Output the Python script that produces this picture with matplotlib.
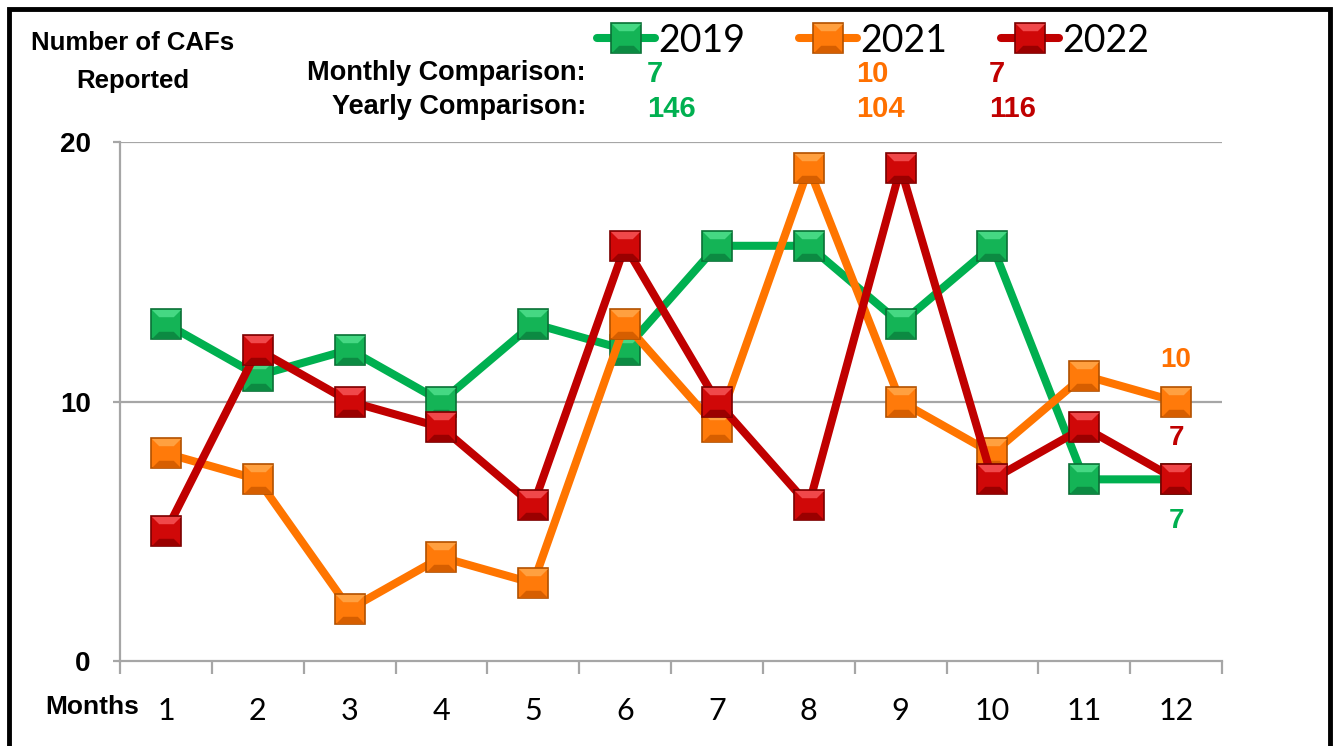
import matplotlib
matplotlib.use("Agg")
import matplotlib.pyplot as plt
from matplotlib.patches import Rectangle
from matplotlib.lines import Line2D
from matplotlib.path import Path
from matplotlib import font_manager as fm

months = list(range(1, 13))
month_labels = [str(m) for m in months]
years = ["2019", "2021", "2022"]
v2019 = [13, 11, 12, 10, 13, 12, 16, 16, 13, 16, 7, 7]
v2021 = [8, 7, 2, 4, 3, 13, 9, 19, 10, 8, 11, 10]
v2022 = [5, 12, 10, 9, 6, 16, 10, 6, 19, 7, 9, 7]
monthly_cmp = [7, 10, 7]
yearly_cmp = [146, 104, 116]
yticks = [0, 10, 20]

line_colors = ["#00B050", "#FF7500", "#C00000"]
face_colors = ["#14B456", "#FF7A0A", "#D00808"]
light_colors = ["#45D883", "#FFA040", "#F0484A"]
dark_colors = ["#0C8A42", "#D65E00", "#9A0000"]
edge_colors = ["#0A7036", "#B05000", "#7A0000"]
text_colors = ["#00B050", "#FF7000", "#C00000"]

names = {f.name for f in fm.fontManager.ttflist}
bold_font = "Liberation Sans Narrow" if "Liberation Sans Narrow" in names else "Liberation Sans"
num_font = "Lato" if "Lato" in names else "DejaVu Sans"

# bevel marker pieces (normalised to a square of half-size 1)
b = 0.5
top_trap = Path([(-1, 1), (1, 1), (b, b), (-b, b), (-1, 1)], closed=True)
bot_trap = Path([(-1, -1), (1, -1), (b, -b), (-b, -b), (-1, -1)], closed=True)

W, H = 1335, 746
fig = plt.figure(figsize=(W / 100, H / 100), dpi=100)

def fx(px):
    return px / W

def fy(py):
    return 1 - py / H

MS = 21

def bevel_marker(draw_fn, i, z):
    draw_fn(marker="s", ms=MS, markerfacecolor=face_colors[i],
            markeredgecolor=edge_colors[i], markeredgewidth=1.2, zorder=z)
    draw_fn(marker=top_trap, ms=MS, markerfacecolor=light_colors[i],
            markeredgewidth=0, zorder=z + 0.01)
    draw_fn(marker=bot_trap, ms=MS, markerfacecolor=dark_colors[i],
            markeredgewidth=0, zorder=z + 0.01)

ax = fig.add_axes([fx(120), fy(661), fx(1222) - fx(120), fy(142) - fy(661)])
series = [v2019, v2021, v2022]
for i, vals in enumerate(series):
    z = 3 + i
    ax.plot(months, vals, color=line_colors[i], lw=5.8, zorder=z,
            solid_capstyle="round")
    bevel_marker(lambda **kw: ax.plot(months, vals, ls="none", **kw), i, z + 0.1)

ax.set_xlim(0.5, 12.5)
ax.set_ylim(0, 20)
ax.set_yticks(yticks)
ax.set_yticklabels([str(t) for t in yticks], fontsize=20, fontweight="bold",
                   family=bold_font)
for t in yticks[1:]:
    ax.axhline(t, color="#A6A6A6", lw=1.6, zorder=1)
ax.set_xticks(months)
ax.set_xticklabels(month_labels, fontsize=22, family=num_font)
ax.set_xticks([m + 0.5 for m in [0] + months], minor=True)
ax.tick_params(axis="x", which="major", length=0, pad=26)
ax.tick_params(axis="x", which="minor", length=9, width=1.6, color="#A6A6A6")
ax.tick_params(axis="y", length=5, width=1.6, color="#A6A6A6", pad=16)
for s in ["top", "right"]:
    ax.spines[s].set_visible(False)
for s in ["left", "bottom"]:
    ax.spines[s].set_color("#A6A6A6")
    ax.spines[s].set_linewidth(1.6)

# end-of-line labels
ax.text(12, v2021[-1] + 1.1, str(v2021[-1]), color=text_colors[1], fontsize=20,
        fontweight="bold", family=bold_font, ha="center", va="bottom")
ax.text(12, v2022[-1] + 1.1, str(v2022[-1]), color=text_colors[2], fontsize=20,
        fontweight="bold", family=bold_font, ha="center", va="bottom")
ax.text(12, v2019[-1] - 1.1, str(v2019[-1]), color=text_colors[0], fontsize=20,
        fontweight="bold", family=bold_font, ha="center", va="top")

# legend
leg_x = [597, 799, 1001]
for i in range(3):
    y = fy(38)
    fig.add_artist(Line2D([fx(leg_x[i]), fx(leg_x[i] + 58)], [y, y], color=line_colors[i],
                          lw=5.8, solid_capstyle="round",
                          transform=fig.transFigure))
    xm = fx(leg_x[i] + 29)
    bevel_marker(lambda **kw: fig.add_artist(Line2D([xm], [y], ls="none",
                                                    transform=fig.transFigure, **kw)),
                 i, 5)
    fig.text(fx(leg_x[i] + 61), y, years[i], fontsize=27, family=num_font,
             ha="left", va="center_baseline")

# header texts
fig.text(fx(133), fy(43), "Number of CAFs", fontsize=18.5, fontweight="bold",
         family=bold_font, ha="center", va="center")
fig.text(fx(133), fy(81), "Reported", fontsize=18.5, fontweight="bold",
         family=bold_font, ha="center", va="center")
fig.text(fx(586), fy(73), "Monthly Comparison:", fontsize=19.5, fontweight="bold",
         family=bold_font, ha="right", va="center")
fig.text(fx(586), fy(107), "Yearly Comparison:", fontsize=19.5, fontweight="bold",
         family=bold_font, ha="right", va="center")
val_x = [647, 856, 989]
for i in range(3):
    fig.text(fx(val_x[i]), fy(74), str(monthly_cmp[i]), color=text_colors[i],
             fontsize=21, fontweight="bold", family=bold_font, ha="left", va="center")
    fig.text(fx(val_x[i]), fy(109), str(yearly_cmp[i]), color=text_colors[i],
             fontsize=21, fontweight="bold", family=bold_font, ha="left", va="center")

fig.text(fx(92), fy(707), "Months", fontsize=19, fontweight="bold",
         family=bold_font, ha="center", va="center")

# frame border
fig.add_artist(Rectangle((fx(9), fy(760)), fx(1321), fy(9) - fy(760), fill=False,
                         lw=3.5, edgecolor="black", transform=fig.transFigure))

fig.savefig("out.png", dpi=100)
